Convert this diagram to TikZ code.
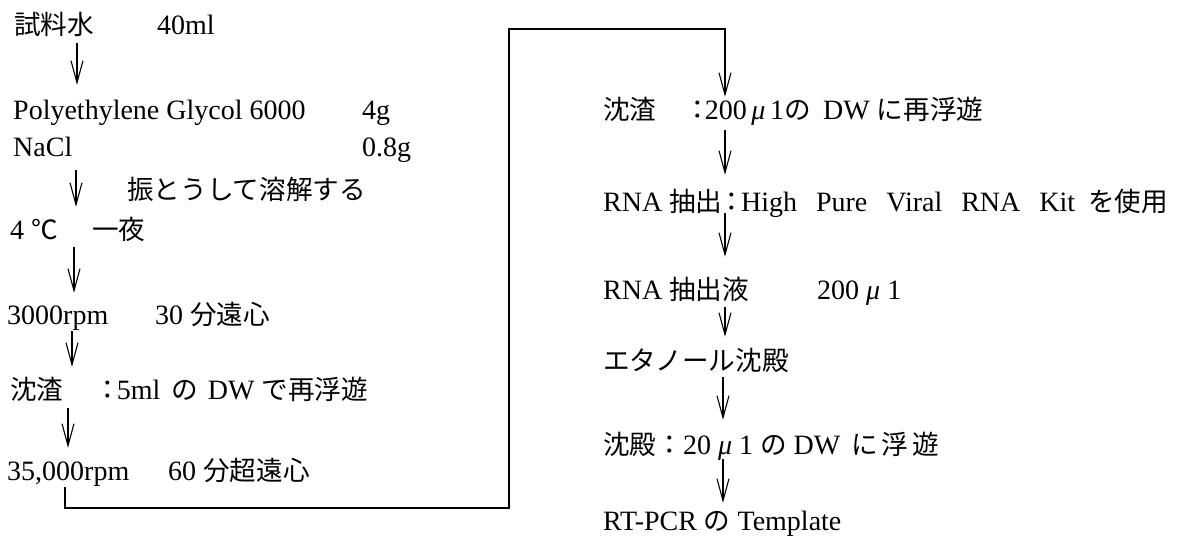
\documentclass[tikz,border=0pt]{standalone}
\usepackage{fontspec}
\setmainfont{Liberation Serif}
\newfontfamily\jp[Scale=0.95]{Noto Sans CJK JP}
\usetikzlibrary{arrows.meta}
\tikzset{
  txt/.style={anchor=base west, inner sep=0pt, text height=20pt, text depth=7pt,
              font=\fontsize{28}{30}\selectfont},
  arr/.style={draw=black, line width=1.1pt,
              -{Straight Barb[length=22pt,width=12pt,line width=1.1pt]}},
  conn/.style={draw=black, line width=1.1pt}
}
\begin{document}
\begin{tikzpicture}[x=1pt,y=-1pt]
\useasboundingbox (0,0) rectangle (1179,536);
% left column
\node[txt] (shiryo) at (14,34) {\jp 試料水};
\node[txt] (ml40) at (157,34) {40ml};
\node[txt] (peg) at (13,119) {Polyethylene Glycol 6000};
\node[txt] (g4) at (362,119) {4g};
\node[txt] (nacl) at (13,156) {NaCl};
\node[txt] (g08) at (362,156) {0.8g};
\node[txt] (shinto) at (127,199) {\jp 振とうして溶解する};
\node[txt] (deg4) at (10,239) {4 {\jp ℃}};
\node[txt] (ichiya) at (92,239) {\jp 一夜};
\node[txt] (rpm3) at (7,324) {3000rpm};
\node[txt] (min30) at (155,324) {30 {\jp 分遠心}};
\node[txt] (chin1) at (10,399) {\jp 沈渣};
\node[txt] (res1) at (94,399) {{\jp ：}\hspace{-4pt}5ml\hspace{4pt} {\jp の}\hspace{3pt} DW {\jp で再浮遊}};
\node[txt] (rpm35) at (7,480) {35,000rpm};
\node[txt] (min60) at (168,480) {60 {\jp 分超遠心}};
% right column
\node[txt] (chin2) at (603,119) {\jp 沈渣};
\node[txt] (res2) at (684,119) {{\jp ：}\hspace{-6pt}200\,\textit{μ}\,1{\jp の}};
\node[txt] (res2b) at (823,119) {DW {\jp に再浮遊}};
\node[txt] (rna) at (603,211) {RNA {\jp 抽出}\hspace{-4pt}{\jp ：}\hspace{-4pt}High\hspace{12pt} Pure\hspace{12pt} Viral\hspace{12pt} RNA\hspace{12pt} Kit\hspace{6pt} {\jp を使用}};
\node[txt] (rnaex) at (603,299) {RNA {\jp 抽出液}};
\node[txt] (ul200) at (817,299) {200 \textit{μ} 1};
\node[txt] (etoh) at (603,370) {\jp エタノール沈殿};
\node[txt] (chinden) at (603,454) {{\jp 沈殿：}20 \textit{μ} 1 {\jp の} DW\hspace{4pt} {\jp に\hspace{4pt}浮\hspace{4pt}遊}};
\node[txt] (rtpcr) at (603,530) {RT-PCR {\jp の} Template};
% column coordinates
\coordinate (xa1) at (77,0);
\coordinate (xa2) at (76,0);
\coordinate (xa3) at (74,0);
\coordinate (xa4) at (72,0);
\coordinate (xa5) at (68,0);
\coordinate (xs) at (65,0);
\coordinate (k2) at (509,508);
\coordinate (k4) at (725,29);
\coordinate (xr) at (725,0);
\coordinate (xr4) at (723,0);
% left arrows
\draw[arr, shorten <=2pt, shorten >=14pt] (shiryo.south -| xa1) -- (peg.north -| xa1);
\draw[arr, shorten <=7pt, shorten >=12pt] (nacl.south -| xa2) -- (deg4.north -| xa2);
\draw[arr, shorten <=1pt, shorten >=11pt] (deg4.south -| xa3) -- (rpm3.north -| xa3);
\draw[arr, shorten <=0pt, shorten >=12pt] (rpm3.south -| xa4) -- (chin1.north -| xa4);
\draw[arr, shorten <=2pt, shorten >=12pt] (chin1.south -| xa5) -- (rpm35.north -| xa5);
% connector
\draw[arr, shorten >=2pt] (rpm35.south -| xs) |- (k2) |- (k4) -- (chin2.north -| k4);
% right arrows
\draw[arr, shorten <=4pt, shorten >=16pt] (chin2.south -| xr) -- (rna.north -| xr);
\draw[arr, shorten <=-5pt, shorten >=22pt] (rna.south -| xr) -- (rnaex.north -| xr);
\draw[arr, shorten <=1pt, shorten >=13pt] (rnaex.south -| xr) -- (etoh.north -| xr);
\draw[arr, shorten <=0pt, shorten >=14pt] (etoh.south -| xr4) -- (chinden.north -| xr4);
\draw[arr, shorten <=-2pt, shorten >=7pt] (chinden.south -| xr4) -- (rtpcr.north -| xr4);
\end{tikzpicture}
\end{document}
